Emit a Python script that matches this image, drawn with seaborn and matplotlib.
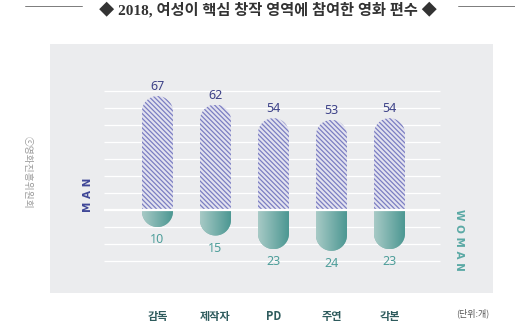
import numpy as np
import pandas as pd
import matplotlib
matplotlib.use("Agg")
import matplotlib.pyplot as plt
import seaborn as sns
from matplotlib.path import Path
from matplotlib.lines import Line2D
from matplotlib.colors import LinearSegmentedColormap

# ---- data ----
categories = ['감독', '제작자', 'PD', '주연', '각본']
men = [67, 62, 54, 53, 54]
women = [10, 15, 23, 24, 23]
title = '◆ 2018, 여성이 핵심 창작 영역에 참여한 영화 편수 ◆'
unit_label = '(단위:개)'
source_label = 'ⓒ영화진흥위원회'

sns.set_theme(style='white')
plt.rcParams['font.family'] = ['Noto Sans CJK KR', 'DejaVu Sans']
plt.rcParams['hatch.linewidth'] = 0.9

W, H = 515, 330
fig = plt.figure(figsize=(W / 100, H / 100), dpi=100)
fig.patch.set_facecolor('white')

# panel in pixels
pl, pr, pt, pb = 50, 493, 44, 293
ax = fig.add_axes([pl / W, 1 - pb / H, (pr - pl) / W, (pb - pt) / H])
ax.set_facecolor('#ebecee')

xmin, xmax = -1.853, 5.785
ymin, ymax = -48.8, 97.6
px_x = (pr - pl) / (xmax - xmin)
px_y = (pb - pt) / (ymax - ymin)

df_m = pd.DataFrame({'cat': categories, 'val': men})
df_w = pd.DataFrame({'cat': categories, 'val': [-v for v in women]})

sns.barplot(data=df_m, x='cat', y='val', ax=ax, width=0.534,
            color='#e2e2ef', edgecolor='#7b7ec2', linewidth=0,
            hatch='\\' * 7, saturation=1, zorder=2)
n_m = len(ax.patches)
sns.barplot(data=df_w, x='cat', y='val', ax=ax, width=0.534,
            color='#7fb3ae', linewidth=0, saturation=1, zorder=2)
men_patches = ax.patches[:n_m]
women_patches = ax.patches[n_m:]


def capsule_path(x0, w, h):
    rx = w / 2
    ry = rx * px_x / px_y
    xc = x0 + rx
    if h >= 0:
        yc = h - ry
        ang = np.linspace(np.pi, 0, 40)
    else:
        yc = h + ry
        ang = np.linspace(np.pi, 2 * np.pi, 40)
    verts = [(x0, 0), (x0, yc)]
    verts += list(zip(xc + rx * np.cos(ang), yc + ry * np.sin(ang)))
    verts += [(x0 + w, 0), (x0, 0)]
    return Path(verts, closed=True)


cmap = LinearSegmentedColormap.from_list('tg', ['#a8cac6', '#4b9792'])
grad = np.linspace(0, 1, 256).reshape(1, -1)

for p in men_patches:
    path = capsule_path(p.get_x(), p.get_width(), p.get_height())
    p.set_clip_path(path, ax.transData)

for p in women_patches:
    x0, w, h = p.get_x(), p.get_width(), p.get_height()
    path = capsule_path(x0, w, h)
    p.set_clip_path(path, ax.transData)
    im = ax.imshow(grad, cmap=cmap, extent=[x0, x0 + w, h, 0],
                   aspect='auto', zorder=2.5, interpolation='bilinear')
    im.set_clip_path(path, ax.transData)

ax.set_xlim(xmin, xmax)
ax.set_ylim(ymin, ymax)

# gridlines
gx0 = (104 - pl) / px_x + xmin
gx1 = (440 - pl) / px_x + xmin
levels = [v for v in range(-30, 80, 10) if v != 0]
ax.hlines(levels, gx0, gx1, color='white', lw=0.9, zorder=1)
ax.hlines([0], gx0, gx1, color='white', lw=1.6, zorder=4)

# value labels
for i, v in enumerate(men):
    ax.text(i, v + 5.6, str(v), ha='center', va='center', fontsize=9,
            color='#3d4288', family=['Noto Sans', 'DejaVu Sans'])
for i, v in enumerate(women):
    ax.text(i, -v - 7.4, str(v), ha='center', va='center', fontsize=9,
            color='#4e9e9a', family=['Noto Sans', 'DejaVu Sans'])

# axes styling
for s in ax.spines.values():
    s.set_visible(False)
ax.set_xlabel('')
ax.set_ylabel('')
ax.set_yticks([])
ax.tick_params(axis='x', length=0, pad=12)
for lab in ax.get_xticklabels():
    lab.set_fontsize(8)
    lab.set_fontweight('bold')
    lab.set_color('#2e5b5d')

# MAN / WOMAN side labels
fig.text(88 / W, 1 - 195 / H, 'M A N', rotation=90, ha='center', va='center',
         fontsize=7.5, fontweight='bold', color='#3f4797',
         family=['DejaVu Sans'])
fig.text(459 / W, 1 - 240 / H, 'W O M A N', rotation=-90, ha='center',
         va='center', fontsize=7.5, fontweight='bold', color='#5aa9a5',
         family=['DejaVu Sans'])

# unit label
fig.text(473 / W, 1 - 313 / H, unit_label, ha='center', va='center',
         fontsize=6.5, color='#555555')

# source (vertical)
fig.text(28 / W, 1 - 172 / H, source_label, rotation=-90, ha='center',
         va='center', fontsize=7, color='#9a9a9a',
         family=['Noto Sans CJK KR', 'DejaVu Sans'])

# title
fig.text(268 / W, 1 - 10 / H, title, ha='center', va='center',
         fontsize=11, fontweight='bold', color='#333333',
         family=['Liberation Serif', 'Noto Sans CJK KR'])
fig.add_artist(Line2D([25 / W, 82 / W], [1 - 6 / H] * 2,
                      transform=fig.transFigure, color='#666666', lw=0.6))
fig.add_artist(Line2D([458 / W, 515 / W], [1 - 6 / H] * 2,
                      transform=fig.transFigure, color='#666666', lw=0.6))

fig.savefig('out.png', dpi=100, facecolor='white')
